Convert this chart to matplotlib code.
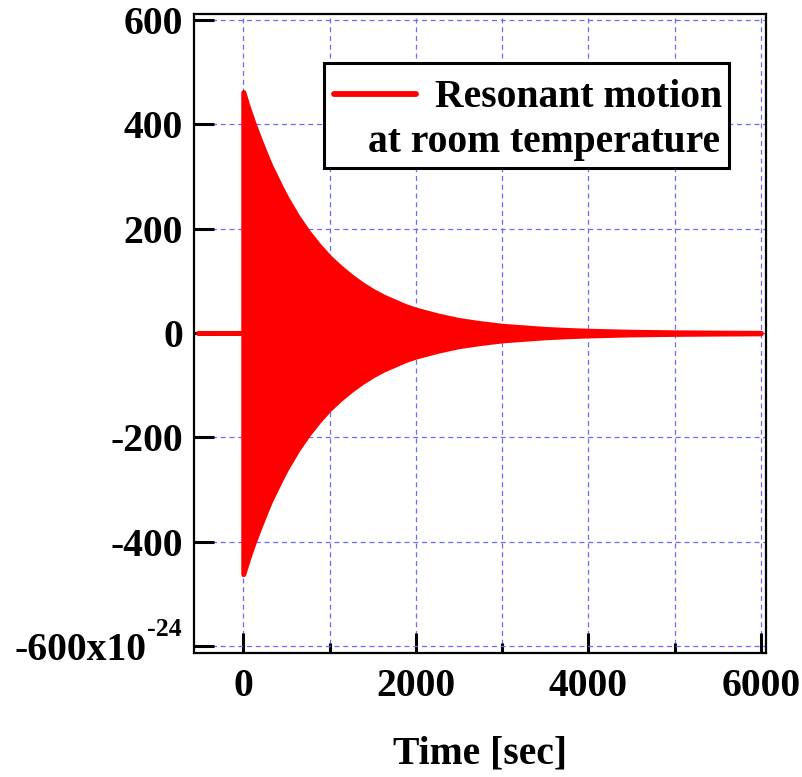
import matplotlib.pyplot as plt
from matplotlib.patches import Rectangle

plt.rcParams['font.family'] = ['Liberation Serif', 'DejaVu Serif']
plt.rcParams['font.weight'] = 'bold'
plt.rcParams['axes.unicode_minus'] = False

# flat part before the drive is switched off
t_before = [-525, 0]
x_before = [0, 0]

# envelope of the ring-down, units of 1e-24
t_env = [0, 60, 125, 190, 250, 310, 375, 440, 500, 625, 750, 875, 1000,
         1125, 1250, 1375, 1500, 1625, 1750, 1875, 2000, 2250, 2500,
         2750, 3000, 3250, 3500, 3750, 4000, 4500, 5000, 5500, 6000]
amp_env = [462, 430, 399, 371, 346, 322, 300, 278, 259, 224, 194, 168, 145,
           126, 109, 94, 81, 70, 61, 52, 45, 34, 25,
           19, 14, 11, 8, 6, 4.5, 2.5, 1.5, 0.9, 0.5]

xticks = [0, 2000, 4000, 6000]
xminor = [1000, 3000, 5000]
yticks = [-600, -400, -200, 0, 200, 400, 600]
ylabels = ['', '-400', '-200', '0', '200', '400', '600']

fs = 28.5
red = '#ff0000'
gridc = '#6a6aff'

fig = plt.figure(figsize=(8.03, 7.77), dpi=100)
ax = fig.add_axes([0.241, 0.16, 0.713, 0.8226])

ax.plot(t_before, x_before, color=red, lw=3.6, solid_capstyle='round', zorder=3)
ax.fill_between(t_env, [-a for a in amp_env], amp_env, color=red,
                edgecolor=red, lw=3.6, zorder=3)

ax.set_xlim(-577, 6061)
ax.set_ylim(-612.5, 612.5)

ax.set_xticks(xticks)
ax.set_xticks(xminor, minor=True)
ax.set_xticklabels([str(v) for v in xticks])
ax.set_yticks(yticks)
ax.set_yticklabels(ylabels)

ax.tick_params(axis='both', which='major', direction='in', length=14.4,
               width=2.2, labelsize=fs, top=False, right=False)
ax.tick_params(axis='x', which='major', pad=11)
ax.tick_params(axis='y', which='major', pad=7.5)
ax.tick_params(axis='x', which='minor', direction='in', length=7.2,
               width=2.2, top=False)

# bottom y label with the Igor-style exponent
ax.annotate('-600x10', xy=(0, yticks[0]), xycoords=('axes fraction', 'data'),
            xytext=(-34.2, -10.1), textcoords='offset points',
            ha='right', va='baseline', fontsize=fs, annotation_clip=False)
ax.annotate('-24', xy=(0, yticks[0]), xycoords=('axes fraction', 'data'),
            xytext=(-33.5, 7.2), textcoords='offset points',
            ha='left', va='baseline', fontsize=18.5, annotation_clip=False)

for s in ax.spines.values():
    s.set_linewidth(1.6)

ax.grid(True, which='both', axis='x', color=gridc, lw=0.9, ls=(0, (4, 3)), zorder=0)
ax.grid(True, which='major', axis='y', color=gridc, lw=0.9, ls=(0, (4, 3)), zorder=0)
ax.set_axisbelow(True)

ax.set_xlabel('Time [sec]', fontsize=fs, fontweight='bold', labelpad=22)

# legend box drawn by hand (Igor-style, two-line label)
ax.add_patch(Rectangle((0.228, 0.7583), 0.707, 0.1643, transform=ax.transAxes,
                       facecolor='white', edgecolor='black', lw=2.2, zorder=5))
ax.plot([0.2455, 0.389], [0.874, 0.874], transform=ax.transAxes, color=red,
        lw=4.2, solid_capstyle='round', zorder=6)
ax.text(0.9232, 0.8537, 'Resonant motion', transform=ax.transAxes,
        ha='right', va='baseline', fontsize=fs, zorder=6)
ax.text(0.9197, 0.7833, 'at room temperature', transform=ax.transAxes,
        ha='right', va='baseline', fontsize=fs, zorder=6)

fig.savefig('out.png', dpi=100)
